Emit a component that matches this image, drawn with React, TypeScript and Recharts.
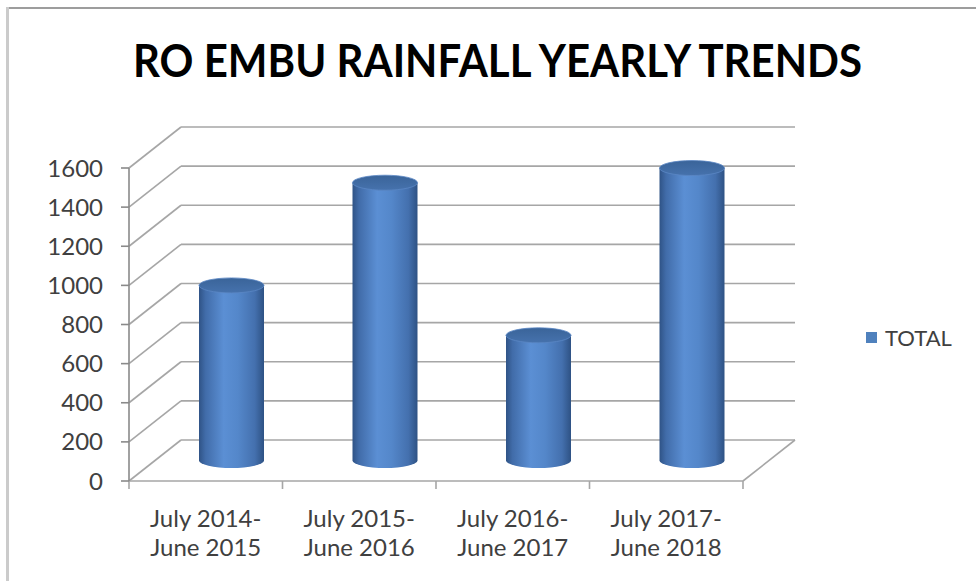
import React from "react"
import { BarChart, Bar, XAxis, YAxis, CartesianGrid, Legend, ReferenceLine } from "recharts"

const categories = ["July 2014-|June 2015", "July 2015-|June 2016", "July 2016-|June 2017", "July 2017-|June 2018"]
const totals = [895, 1420, 640, 1495]
const yTicks = [0, 200, 400, 600, 800, 1000, 1200, 1400, 1600]

const data = categories.map((period, i) => ({ period, total: totals[i] }))

// oblique depth of the 3D box
const DX = 52
const DY = 41
const GRID = "#a6a6a6"
const AXIS = "#8a8a8a"
const TEXT = "#404040"
const FONT = "Lato, 'Open Sans', sans-serif"

function BackGridLine(props: any) {
  const { x1, y1, x2 } = props
  return (
    <g>
      <line x1={x1} y1={y1} x2={x1 + DX} y2={y1 - DY} stroke={GRID} strokeWidth={1.6} />
      <line x1={x1 + DX} y1={y1 - DY} x2={x2 + DX} y2={y1 - DY} stroke={GRID} strokeWidth={1.6} />
    </g>
  )
}

function Floor(props: any) {
  const { x1, y1, x2 } = props
  return (
    <g>
      <line x1={x1} y1={y1} x2={x2} y2={y1} stroke={GRID} strokeWidth={1.6} />
      <line x1={x2} y1={y1} x2={x2 + DX} y2={y1 - DY} stroke={GRID} strokeWidth={1.6} />
    </g>
  )
}

function BoundaryTick(props: any) {
  const { x1, y1, y2 } = props
  const base = Math.max(y1, y2)
  return <line x1={x1} y1={base} x2={x1} y2={base + 8} stroke={GRID} strokeWidth={1.6} />
}

function Cylinder(props: any) {
  const { x, y, width, height } = props
  const rx = width / 2
  const ry = 7.5
  const cx = x + rx + DX / 2
  const top = y - DY / 2
  const bottom = y + height - DY / 2
  const left = cx - rx
  const right = cx + rx
  const body = `M${left},${top} L${left},${bottom} A${rx},${ry} 0 0 0 ${right},${bottom} L${right},${top} Z`
  return (
    <g>
      <path d={body} fill="url(#cylBody)" />
      <ellipse cx={cx} cy={top} rx={rx} ry={ry} fill="url(#cylTop)" stroke="#5b87c4" strokeWidth={0.8} />
    </g>
  )
}

function CategoryTick(props: any) {
  const { x, y, payload } = props
  const lines = String(payload.value).split("|")
  return (
    <text x={x} y={y} textAnchor="middle" fill={TEXT} fontSize={24} fontFamily={FONT}>
      <tspan x={x} dy={46}>{lines[0]}</tspan>
      <tspan x={x} dy={29}>{lines[1]}</tspan>
    </text>
  )
}

function LegendBox() {
  return (
    <div style={{ display: "flex", alignItems: "center", fontFamily: FONT, fontSize: 22, color: TEXT }}>
      <span style={{ width: 11, height: 11, background: "#4f81bd", marginRight: 8, display: "inline-block" }} />
      <span>TOTAL</span>
    </div>
  )
}

export default function App() {
  return (
    <div style={{ position: "absolute", left: 0, top: 0, width: 976, height: 581, background: "#fff", overflow: "hidden" }}>
      <div style={{ position: "absolute", left: 6, top: 7, width: 970, height: 2, background: "#9d9d9d" }} />
      <div style={{ position: "absolute", left: 6, top: 7, width: 3, height: 574, background: "#cbcbcb" }} />
      <svg width={976} height={120} style={{ position: "absolute", left: 0, top: 0 }}>
        <text
          x={497.5}
          y={77}
          textAnchor="middle"
          fontFamily={FONT}
          fontWeight={700}
          fontSize={45}
          fill="#000"
          textLength={729}
          lengthAdjust="spacingAndGlyphs"
        >
          RO EMBU RAINFALL YEARLY TRENDS
        </text>
      </svg>
      <div style={{ position: "absolute", left: 0, top: 0 }}>
        <BarChart width={976} height={581} data={data} margin={{ top: 168, right: 233, left: 0, bottom: 0 }}>
          <defs>
            <linearGradient id="cylBody" x1="0" y1="0" x2="1" y2="0">
              <stop offset="0" stopColor="#2f5386" />
              <stop offset="0.1" stopColor="#416ca9" />
              <stop offset="0.38" stopColor="#5b8fd4" />
              <stop offset="0.6" stopColor="#5487ca" />
              <stop offset="0.86" stopColor="#4470ae" />
              <stop offset="1" stopColor="#2e5284" />
            </linearGradient>
            <linearGradient id="cylTop" x1="0" y1="0" x2="0" y2="1">
              <stop offset="0" stopColor="#3a6499" />
              <stop offset="1" stopColor="#4672ad" />
            </linearGradient>
          </defs>
          <CartesianGrid vertical={false} horizontal={BackGridLine} />
          <XAxis
            dataKey="period"
            axisLine={false}
            tickLine={false}
            tickSize={0}
            tickMargin={0}
            interval={0}
            tick={CategoryTick}
            height={100}
          />
          <YAxis
            domain={[0, 1600]}
            ticks={yTicks}
            interval={0}
            width={129}
            tickSize={8}
            tickMargin={18}
            axisLine={{ stroke: AXIS, strokeWidth: 1.6 }}
            tickLine={{ stroke: AXIS, strokeWidth: 1.6 }}
            tick={{ fill: TEXT, fontSize: 24, fontFamily: FONT }}
          />
          <ReferenceLine y={0} shape={Floor} />
          {categories.map((c) => (
            <ReferenceLine key={c} x={c} position="start" shape={BoundaryTick} />
          ))}
          <ReferenceLine x={categories[categories.length - 1]} position="end" shape={BoundaryTick} />
          <Bar dataKey="total" name="TOTAL" barSize={65} shape={Cylinder} isAnimationActive={false} />
          <Legend
            content={LegendBox}
            wrapperStyle={{ left: 866, top: 324, width: 110, height: 0, overflow: "visible" }}
          />
        </BarChart>
      </div>
    </div>
  )
}
